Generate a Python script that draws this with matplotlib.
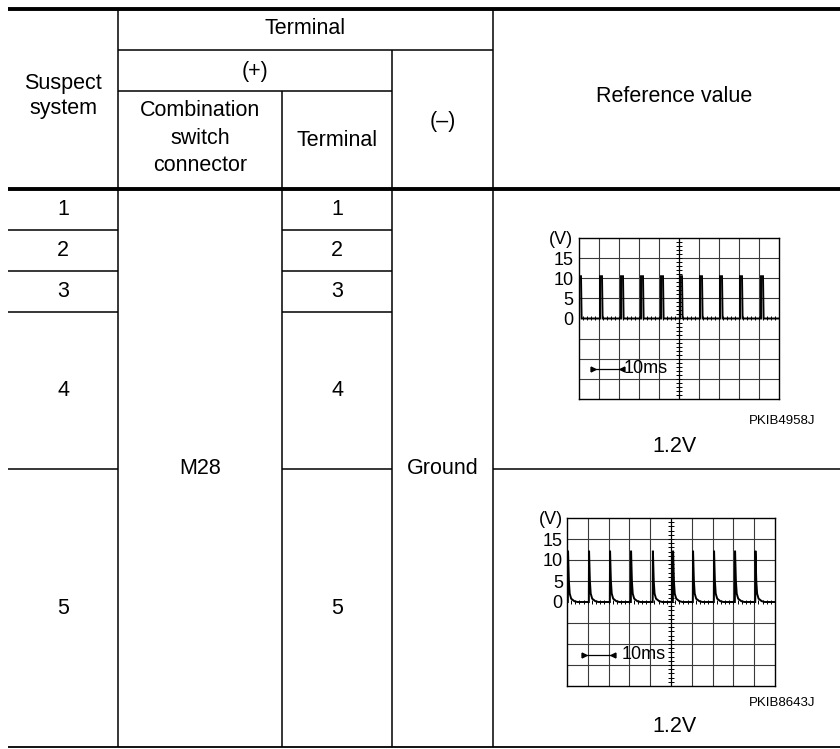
import matplotlib
matplotlib.use('Agg')
import matplotlib.pyplot as plt

# --- table content ---
suspect_systems = ['1', '2', '3', '4', '5']
plus_connector = 'M28'
plus_terminals = ['1', '2', '3', '4', '5']
minus_terminal = 'Ground'
ref_values = ['1.2V', '1.2V']
figure_codes = ['PKIB4958J', 'PKIB8643J']

# --- waveform readings (x in grid divisions, y in volts) ---
volt_ticks = [0, 5, 10, 15]
scope1_pulse_div = [0.0, 1.05, 2.1, 3.1, 4.1, 5.05, 6.05, 7.05, 8.05, 9.1]
scope1_pulse_v = 10.5
scope1_pulse_width = [0.0, 0.1, 0.13]     # rise, top end, fall end
scope2_pulse_div = [0.05, 1.06, 2.07, 3.08, 4.13, 5.1, 6.06, 7.07, 8.08, 9.06]
scope2_spike_dt = [-0.01, 0.0, 0.04, 0.08, 0.15, 0.3, 0.45]
scope2_spike_v = [0.0, 12.2, 5.0, 2.0, 0.8, 0.2, 0.0]

W, H = 840, 749
fig = plt.figure(figsize=(W / 100, H / 100), dpi=100)
ax = fig.add_axes([0, 0, 1, 1])
ax.set_xlim(0, W)
ax.set_ylim(H, 0)
ax.axis('off')

FONT = ['Liberation Sans', 'DejaVu Sans']
NARROW = ['Liberation Sans Narrow', 'Liberation Sans', 'DejaVu Sans']
FS = 15.5

# layout (pixels)
x0, x1, x2, x3, x4, x5 = 8, 118, 282, 392, 493, 840
top, hdr1, hdr2, hdr_bot = 9, 50, 91, 189
row_edges = [189, 230, 271, 312, 469, 747]
ref_cx = 674
thin = 1.1
thick = 2.8

def hline(y, xa, xb, lw=thin):
    ax.plot([xa, xb], [y, y], color='black', lw=lw, solid_capstyle='butt')

def vline(x, ya, yb, lw=thin):
    ax.plot([x, x], [ya, yb], color='black', lw=lw, solid_capstyle='butt')

# outer / header rules
hline(top, x0, x5, thick)
hline(hdr_bot, x0, x5, thick)
hline(row_edges[-1], x0, x5, 1.3)
hline(hdr1, x1, x4)
hline(hdr2, x1, x3)
vline(x1, top, row_edges[-1])
vline(x4, top, row_edges[-1])
vline(x2, hdr2, row_edges[-1])
vline(x3, hdr1, row_edges[-1])

# row separators
for y in row_edges[1:-1]:
    hline(y, x0, x1)
    hline(y, x2, x3)
hline(row_edges[4], x4, x5)

def txt(x, y, s, **kw):
    kw.setdefault('fontsize', FS)
    ax.text(x, y, s, ha='center', va='center', family=FONT, **kw)

# header text
txt((x0 + x1) / 2, 96, 'Suspect\nsystem', linespacing=1.2)
txt((x1 + x4) / 2, 29, 'Terminal')
txt((x1 + x3) / 2, 71, '(+)')
txt((x1 + x2) / 2, 138, 'Combination\nswitch\nconnector', linespacing=1.38)
txt((x2 + x3) / 2, 140, 'Terminal')
txt((x3 + x4) / 2, 121, '(\u2013)')
txt(ref_cx, 97, 'Reference value')

# body text
for i, s in enumerate(suspect_systems):
    yc = (row_edges[i] + row_edges[i + 1]) / 2
    txt((x0 + x1) / 2, yc, s)
    txt((x2 + x3) / 2, yc, plus_terminals[i])
body_c = (row_edges[0] + row_edges[-1]) / 2
txt((x1 + x2) / 2, body_c, plus_connector)
txt((x3 + x4) / 2, body_c, minus_terminal)


def px_axes(left, right, top_, bottom):
    return fig.add_axes([left / W, 1 - bottom / H, (right - left) / W, (bottom - top_) / H])


def draw_scope(sax, xs, ys, pad, marker_span, text_x):
    sax.set_xlim(0, 10)
    sax.set_ylim(-20, 20)
    for d in range(1, 10):
        if d != 5:
            sax.axvline(d, color='#3a3a3a', lw=0.8)
    for v in range(-15, 20, 5):
        if v != 0:
            sax.axhline(v, color='#3a3a3a', lw=0.8)
    # centre graticule with small ticks
    sax.axvline(5, color='black', lw=0.9)
    tick_v = [v / 1.0 for v in range(-19, 20)]
    sax.plot([5] * len(tick_v), tick_v, ls='none', marker='_', ms=4, mew=0.7, color='black')
    tick_d = [d / 5 for d in range(1, 50)]
    sax.plot(tick_d, [0] * len(tick_d), ls='none', marker='|', ms=3, mew=0.7, color='black')
    sax.plot(xs, ys, color='black', lw=1.4, solid_joinstyle='miter')
    for sp in sax.spines.values():
        sp.set_color('black')
        sp.set_linewidth(1.0)
    sax.set_xticks([])
    sax.set_yticks(volt_ticks + [20])
    sax.set_yticklabels([str(v) for v in volt_ticks] + ['(V)'], family=NARROW, fontsize=13)
    sax.tick_params(axis='y', length=0, pad=pad)
    # 10ms time marker
    ya = -12.5
    sax.plot(marker_span, [ya, ya], color='black', lw=0.9)
    sax.plot([marker_span[0] + 0.12], [ya], marker='>', ms=3.5, color='black')
    sax.plot([marker_span[1] - 0.05], [ya], marker='<', ms=3.5, color='black')
    sax.text(text_x, ya, '10ms', ha='left', va='center', family=NARROW, fontsize=13)


# scope 1: square pulses
xs1, ys1 = [], []
for t in scope1_pulse_div:
    xs1 += [t + scope1_pulse_width[0], t + scope1_pulse_width[0],
            t + scope1_pulse_width[1], t + scope1_pulse_width[2]]
    ys1 += [0, scope1_pulse_v, scope1_pulse_v, 0]
xs1.append(10)
ys1.append(0)
s1 = px_axes(579, 779, 238, 399)
draw_scope(s1, xs1, ys1, 4, [0.6, 2.2], 2.22)

# scope 2: decaying spikes
xs2, ys2 = [0.0], [0.0]
for t in scope2_pulse_div:
    for dt, v in zip(scope2_spike_dt, scope2_spike_v):
        xs2.append(max(t + dt, 0.0))
        ys2.append(v)
xs2.append(10)
ys2.append(0)
s2 = px_axes(567, 775, 518, 686)
draw_scope(s2, xs2, ys2, 3, [0.7, 2.26], 2.62)

# captions under the scopes
ax.text(782, 421.5, figure_codes[0], ha='center', va='center', family=FONT, fontsize=9.5)
txt(ref_cx, 446, ref_values[0])
ax.text(782, 702.5, figure_codes[1], ha='center', va='center', family=FONT, fontsize=9.5)
txt(ref_cx, 727, ref_values[1])

fig.savefig('out.png', dpi=100)
